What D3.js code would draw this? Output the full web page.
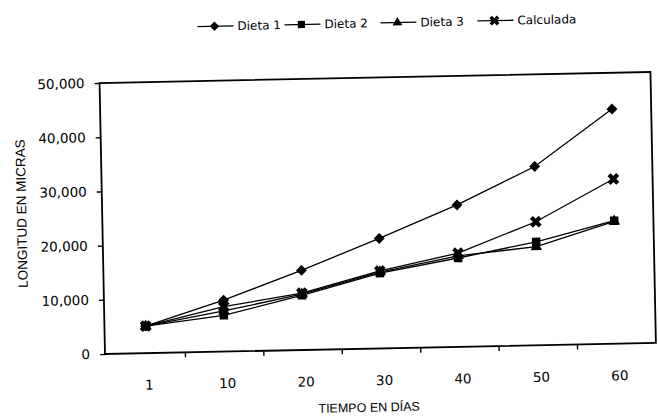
<!DOCTYPE html>
<html><head><meta charset="utf-8">
<script src="https://cdn.jsdelivr.net/npm/d3@7"></script>
<style>html,body{margin:0;padding:0;background:#fff;} svg{display:block}</style>
</head><body>
<svg id="c" width="658" height="417"></svg>
<script>
const categories = ["1","10","20","30","40","50","60"];
const dieta1    = [5000, 9500, 14700, 20300, 26200, 33000, 43300];
const dieta2    = [5000, 6700, 10100, 13900, 16400, 19100, 22700];
const dieta3    = [5000, 7500, 10300, 14100, 16800, 18200, 22600];
const calculada = [5000, 8300, 10500, 14300, 17300, 22800, 30400];
const yTicks = [0, 10000, 20000, 30000, 40000, 50000];
const seriesNames = ["Dieta 1", "Dieta 2", "Dieta 3", "Calculada"];
const seriesValues = [dieta1, dieta2, dieta3, calculada];
const markerTypes = ["diamond", "square", "triangle", "x"];

const m = {left:105, right:656, top:83, bottom:354};
const svg = d3.select("#c");
const g = svg.append("g").attr("transform", `rotate(-1.15, ${m.left}, ${m.bottom})`);

const x = d3.scalePoint().domain(categories).range([107, m.right]).padding(0.5);
const xb = d3.scaleBand().domain(categories).range([107, m.right]);
const y = d3.scaleLinear().domain([0, 50000]).range([m.bottom, m.top]);

// frame
g.append("rect").attr("x", m.left).attr("y", m.top)
  .attr("width", m.right - m.left).attr("height", m.bottom - m.top)
  .attr("fill", "none").attr("stroke", "#000").attr("stroke-width", 1.8);

// y axis
const ya = g.append("g").attr("transform", `translate(${m.left},0)`)
  .call(d3.axisLeft(y).tickValues(yTicks).tickFormat(d3.format(",")).tickSize(5).tickPadding(10));
ya.select(".domain").remove();
ya.selectAll("line").attr("stroke", "#000").attr("stroke-width", 1.4);
ya.selectAll("text").attr("font-family", "DejaVu Sans").attr("font-size", 13.5).attr("fill", "#000");

// x axis labels
const xa = g.append("g").attr("transform", `translate(0,${m.bottom})`)
  .call(d3.axisBottom(x).tickSize(0).tickPadding(27));
xa.select(".domain").remove();
xa.selectAll("text").attr("font-family", "DejaVu Sans").attr("font-size", 13.5).attr("dx", 2).attr("fill", "#000");

// x tick marks between categories
g.append("g").selectAll("line").data(categories.slice(1)).join("line")
  .attr("x1", d => xb(d)).attr("x2", d => xb(d))
  .attr("y1", m.bottom).attr("y2", m.bottom + 5)
  .attr("stroke", "#000").attr("stroke-width", 1.4);

// axis titles
g.append("text").attr("transform", "translate(29,212) rotate(-90)")
  .attr("text-anchor", "middle").attr("font-family", "Liberation Sans, Arial")
  .attr("font-size", 13.5).attr("fill", "#000").text("LONGITUD EN MICRAS");
g.append("text").attr("x", 368).attr("y", 417)
  .attr("text-anchor", "middle").attr("font-family", "Liberation Sans, Arial")
  .attr("font-size", 12.5).attr("fill", "#000").text("TIEMPO EN DÍAS");

function markerPath(type) {
  if (type === "diamond") return d3.symbol(d3.symbolSquare, 60)();
  if (type === "square") return d3.symbol(d3.symbolSquare, 72)();
  if (type === "triangle") return d3.symbol(d3.symbolTriangle, 58)();
  return d3.symbol(d3.symbolCross, 85)();
}
function markerRot(type) { return (type === "diamond" || type === "x") ? 45 : 0; }

const line = d3.line().x((d, i) => x(categories[i])).y(d => y(d));

seriesValues.forEach((vals, si) => {
  const type = markerTypes[si];
  const sg = g.append("g");
  sg.append("path").datum(vals).attr("d", line)
    .attr("fill", "none").attr("stroke", "#000").attr("stroke-width", 1.3);
  sg.selectAll("path.mk").data(vals).join("path").attr("class", "mk")
    .attr("d", markerPath(type))
    .attr("transform", (d, i) => `translate(${x(categories[i])},${y(d)}) rotate(${markerRot(type)})`)
    .attr("fill", "#000");
});

// legend
const legendX = [204, 291, 387, 484];
const legY = 28.5;
const lg = g.append("g");
seriesNames.forEach((name, i) => {
  const x0 = legendX[i];
  const type = markerTypes[i];
  lg.append("line").attr("x1", x0).attr("x2", x0 + 36).attr("y1", legY).attr("y2", legY)
    .attr("stroke", "#000").attr("stroke-width", 1.3);
  lg.append("path").attr("d", markerPath(type))
    .attr("transform", `translate(${x0 + 17},${legY}) rotate(${markerRot(type)}) scale(0.85)`).attr("fill", "#000");
  lg.append("text").attr("x", x0 + 40).attr("y", legY + 4.3)
    .attr("font-family", "DejaVu Sans").attr("font-size", 12).attr("fill", "#000").text(name);
});
</script>
</body></html>
